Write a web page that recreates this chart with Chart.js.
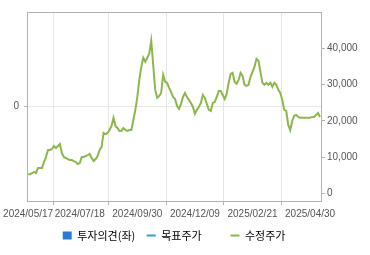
<!DOCTYPE html>
<html>
<head>
<meta charset="utf-8">
<script src="https://cdn.jsdelivr.net/npm/chart.js@4/dist/chart.umd.min.js"></script>
<style>
  html, body { margin: 0; padding: 0; background: #fff; }
  #priceChart { display: block; }
</style>
</head>
<body>
<canvas id="priceChart" width="370" height="255"></canvas>
<script>
// adjusted close price (수정주가), one value every ~2 trading days
const prices = [
    5300, 5300, 5600, 5900, 5600, 7000, 7000, 7000, 8650, 10000,
    11950, 11950, 12200, 13050, 12500, 13050, 13600, 11100, 10000, 9750,
    9450, 9200, 9200, 8900, 8650, 8100, 8350, 10000, 10000, 10300,
    10550, 10850, 9750, 8900, 9450, 10300, 11950, 12750, 16650, 16350,
    16650, 17450, 18550, 20800, 18550, 18000, 17200, 17200, 18000, 17450,
    17200, 17450, 17450, 20200, 23000, 26550, 31250, 34850, 37350, 36250,
    37350, 38450, 42000, 35400, 28500, 26300, 26850, 27650, 32650, 30700,
    30450, 29050, 27950, 26550, 26000, 24100, 23250, 24650, 26550, 27650,
    26550, 25750, 24900, 23800, 21900, 23000, 23800, 24900, 27100, 26300,
    24650, 23000, 22700, 24900, 25200, 26550, 28200, 28200, 27100, 26000,
    27400, 30450, 32900, 33200, 30700, 30150, 31250, 33200, 32350, 29900,
    29600, 29900, 32100, 33450, 34850, 37050, 36500, 33450, 30450, 29900,
    30450, 29900, 30450, 29350, 30450, 29900, 28500, 27650, 25750, 23000,
    22700, 18850, 17450, 19950, 21350, 21600, 21050, 20800, 20800, 20800,
    20800, 20800, 20800, 21050, 21050, 21600, 22150, 21050
];

// date ticks on the x axis and where they fall in the series
const tickDates = ['2024/05/17', '2024/07/18', '2024/09/30', '2024/12/09', '2025/02/21', '2025/04/30'];
const tickIdx = [0, 26, 55, 84, 113, 142];

const priceTicks = [0, 10000, 20000, 30000, 40000];
const opinionTicks = [0];

const legendNames = ['투자의견(좌)', '목표주가', '수정주가'];

const GRID = '#e6e6e6';
const FRAME = '#b2b2b2';
const AXIS_FONT = { family: "'Liberation Sans', Arial, sans-serif", size: 10 };
const LEGEND_PAD = 11.5;

// top edge of the plot frame (the axes draw the other three sides)
const frameTop = {
    id: 'frameTop',
    afterDraw(chart) {
        const { ctx, chartArea } = chart;
        ctx.save();
        ctx.strokeStyle = FRAME;
        ctx.lineWidth = 1;
        ctx.beginPath();
        ctx.moveTo(chartArea.left, chartArea.top + 0.5);
        ctx.lineTo(chartArea.right, chartArea.top + 0.5);
        ctx.stroke();
        ctx.restore();
    }
};

const ctx = document.getElementById('priceChart').getContext('2d');
const priceChart = new Chart(ctx, {
    type: 'line',
    data: {
        labels: prices.map((p, i) => i),
        datasets: [
            {
                type: 'bar',
                label: legendNames[0],
                data: [],
                backgroundColor: '#2a7ad9',
                yAxisID: 'yL'
            },
            {
                label: legendNames[1],
                data: [],
                borderColor: '#26a9b5',
                yAxisID: 'y'
            },
            {
                label: legendNames[2],
                data: prices,
                borderColor: '#8cb84b',
                borderWidth: 2,
                pointRadius: 0,
                tension: 0,
                yAxisID: 'y'
            }
        ]
    },
    options: {
        responsive: false,
        animation: false,
        devicePixelRatio: 1,
        layout: { padding: { top: 12, left: 0, right: 0, bottom: 4 } },
        plugins: {
            tooltip: { enabled: false },
            legend: {
                position: 'bottom',
                fullSize: false,   // centre it under the plot, not the canvas
                labels: {
                    usePointStyle: true,
                    pointStyleWidth: 9,
                    boxHeight: 8,
                    padding: LEGEND_PAD,
                    color: '#444',
                    font: { family: "'Noto Sans CJK KR', sans-serif", size: 11 },
                    generateLabels: function() {
                        return [
                            { text: legendNames[0], fillStyle: '#2a7ad9', strokeStyle: '#2a7ad9', lineWidth: 0, pointStyle: 'rect', hidden: false, datasetIndex: 0 },
                            // trailing spaces widen the gap before the last item
                            { text: legendNames[1] + '       ', fillStyle: '#26a9b5', strokeStyle: '#26a9b5', lineWidth: 2, pointStyle: 'line', hidden: false, datasetIndex: 1 },
                            { text: legendNames[2], fillStyle: '#8cb84b', strokeStyle: '#8cb84b', lineWidth: 2, pointStyle: 'line', hidden: false, datasetIndex: 2 }
                        ];
                    }
                }
            }
        },
        scales: {
            x: {
                afterFit: s => { s.height = 29 - LEGEND_PAD; },
                afterBuildTicks: s => { s.ticks = tickIdx.map(v => ({ value: v })); },
                grid: { color: GRID, tickColor: FRAME, tickLength: 4 },
                border: { color: FRAME },
                ticks: {
                    autoSkip: false,
                    maxRotation: 0,
                    padding: 3,
                    color: '#555',
                    font: AXIS_FONT,
                    callback: value => tickDates[tickIdx.indexOf(value)]
                }
            },
            yL: {
                position: 'left',
                min: -1,
                max: 1,
                afterFit: s => { s.width = 27; },
                afterBuildTicks: s => { s.ticks = opinionTicks.map(v => ({ value: v })); },
                grid: { color: GRID, tickColor: FRAME, tickLength: 3 },
                border: { color: FRAME },
                ticks: { padding: 5, color: '#555', font: AXIS_FONT }
            },
            y: {
                position: 'right',
                min: -2100,
                max: 49950,
                afterFit: s => { s.width = 49; },
                afterBuildTicks: s => { s.ticks = priceTicks.map(v => ({ value: v })); },
                grid: { drawOnChartArea: false, tickColor: FRAME, tickLength: 4 },
                border: { color: FRAME },
                ticks: {
                    padding: 2,
                    color: '#555',
                    font: AXIS_FONT,
                    callback: v => v.toLocaleString('en-US')
                }
            }
        }
    },
    plugins: [frameTop]
});
</script>
</body>
</html>
